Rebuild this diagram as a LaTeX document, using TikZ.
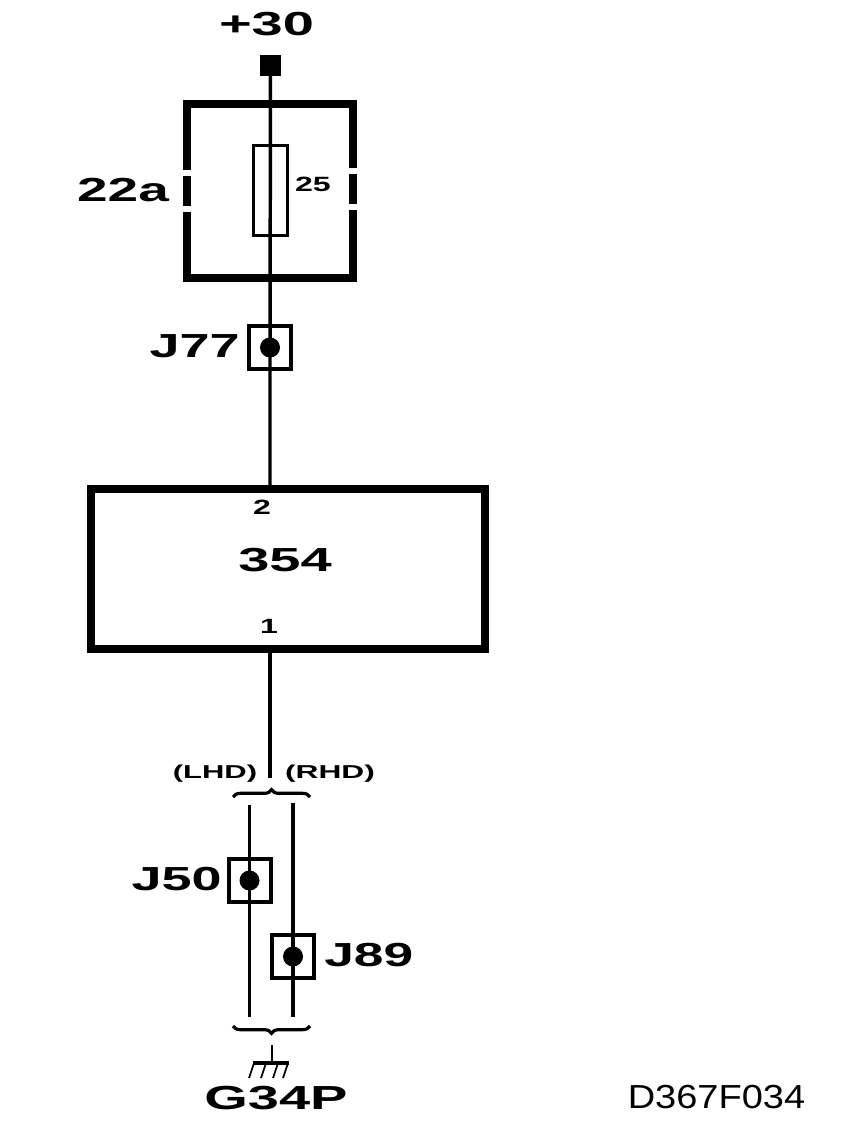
\documentclass[tikz,border=0pt]{standalone}
\usepackage{fontspec}
\setmainfont{Liberation Sans}
\usetikzlibrary{decorations.pathreplacing}
\newcommand{\widelabel}[3]{\scalebox{#2}[1]{\fontsize{#1}{#1}\selectfont\bfseries #3}}
\tikzset{
    wire/.style={black, line width=2.6pt},
    heavybox/.style={draw, black, line width=6pt, rectangle, inner sep=0pt},
    splice/.style={draw, black, line width=3.2pt, rectangle, inner sep=0pt, minimum size=32pt},
    dot/.style={circle, fill=black, inner sep=0pt, minimum size=15pt},
    bracket/.style={black, line width=2.4pt, decorate, decoration={brace, amplitude=5.5pt, aspect=0.5}},
    lbl/.style={inner sep=0pt, text=black}
}
\begin{document}
\begin{tikzpicture}[x=0.75pt, y=-0.75pt]
    \useasboundingbox (0,0) rectangle (864,1134);

    % supply and fuse block
    \node[lbl] (plus) at (266.5,24) {\widelabel{25}{1.68}{+30}};
    \node[rectangle, fill=black, inner sep=0pt, minimum size=16pt] (batt) at (270.5,65.5) {};
    \node[heavybox, minimum width=125pt, minimum height=130.5pt] (block) at (270,191) {};
    \foreach \x/\y in {186.5/173.5, 186.5/209, 353.5/171.5, 353.5/207.5} {
        \fill[white] (\x-8,\y-3) rectangle (\x+8,\y+3);
    }
    \node[draw, black, line width=2.2pt, rectangle, inner sep=0pt, minimum width=25.5pt, minimum height=67.5pt] (fuse) at (270.5,190.5) {};
    \node[lbl] (blockname) at (123,190) {\widelabel{25}{1.65}{22a}};
    \node[lbl] (rating) at (313,184.5) {\widelabel{15.5}{1.55}{25}};

    % upper splice and module
    \node[splice] (j77) at (270,347.5) {};
    \node[dot] (j77dot) at (270,347.5) {};
    \node[lbl, anchor=east] (j77name) at (240,346) {\widelabel{25}{1.62}{J77}};
    \node[heavybox, minimum width=295.5pt, minimum height=120pt] (module) at (287.5,568.5) {};
    \node[lbl] (pintwo) at (262,507) {\widelabel{15.5}{1.55}{2}};
    \node[lbl] (modname) at (285,560) {\widelabel{25}{1.68}{354}};
    \node[lbl] (pinone) at (269,626) {\widelabel{15.5}{1.55}{1}};

    \draw[wire] (batt.center) -- (j77dot.center) -- (270,488.5);

    % left and right hand drive
    \coordinate (split) at (270,778);
    \draw[wire] (270,648.5) -- (split);
    \node[lbl] (lhd) at (215,774) {\widelabel{14}{1.66}{(LHD)}};
    \node[lbl] (rhd) at (330,774) {\widelabel{14}{1.7}{(RHD)}};
    \draw[bracket] (233,797) -- (310,797);

    \node[splice] (j50) at (250,880.5) {};
    \node[dot] (j50dot) at (249.5,880.5) {};
    \node[lbl, anchor=east] (j50name) at (222,879) {\widelabel{25}{1.62}{J50}};
    \node[splice] (j89) at (293,956.5) {};
    \node[dot] (j89dot) at (293,956.5) {};
    \node[lbl, anchor=west] (j89name) at (324,955) {\widelabel{25}{1.6}{J89}};

    \coordinate (ltop) at (249.5,805);
    \coordinate (lbot) at (249.5,1017);
    \coordinate (rtop) at (293,803);
    \coordinate (rbot) at (293,1017);
    \draw[wire] (ltop) -- (j50dot.center) -- (lbot);
    \draw[wire] (rtop) -- (j89dot.center) -- (rbot);
    \draw[bracket] (310,1026) -- (233,1026);

    % ground
    \coordinate (gndtop) at (272,1045);
    \coordinate (gndbar) at (272,1063);
    \draw[black, line width=1.8pt] (gndtop) -- (gndbar);
    \draw[black, line width=3pt] (253,1063) -- (289,1063);
    \foreach \x in {254, 266, 278, 288} {
        \draw[black, line width=1.3pt] (\x,1063) -- (\x-5,1078);
    }
    \node[lbl] (gndname) at (276,1098) {\widelabel{25}{1.68}{G34P}};
    \node[lbl] (drawno) at (716.5,1097) {\scalebox{1.14}[1]{\fontsize{25}{25}\selectfont D367F034}};
\end{tikzpicture}
\end{document}
